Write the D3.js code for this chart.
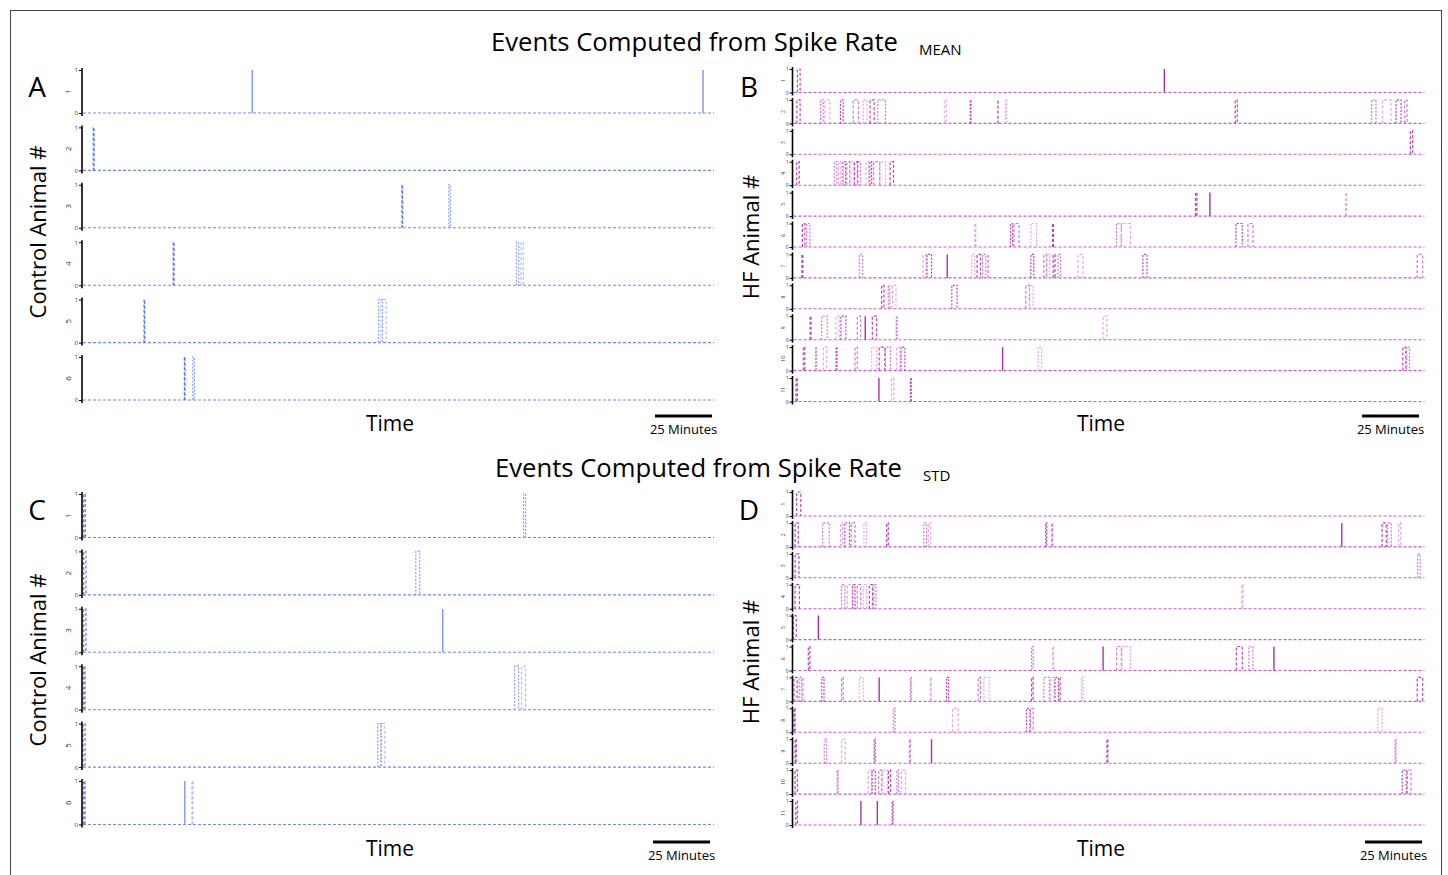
<!DOCTYPE html>
<html><head><meta charset="utf-8">
<script src="https://cdn.jsdelivr.net/npm/d3@7"></script>
<style>body{margin:0;background:#fff}text{font-family:"Open Sans",sans-serif}</style>
</head><body><svg id="c" width="1448" height="875"></svg>
<script>
// ---------- DATA (time in minutes, events as [start, end]) ----------
const timeDomain = [0, 277];
const scaleBarMinutes = 25;
const controlAnimals = ["1","2","3","4","5","6"];
const hfAnimals = ["1","2","3","4","5","6","7","8","9","10","11"];
const titles = ["Events Computed from Spike Rate", "Events Computed from Spike Rate"];
const subscripts = ["MEAN", "STD"];
const panelLetters = ["A","B","C","D"];

const eventsA = [
  [[74.3,74.3],[272.2,272.2]],
  [[4.5,4.9]],
  [[140.0,140.3],[160.6,161.3]],
  [[39.6,40.0],[190.3,191.3],[192.3,193.3]],
  [[26.8,27.1],[129.8,131.5],[130.8,133.1]],
  [[44.5,44.8],[48.2,48.9]]
];
const eventsC = [
  [[0.3,1.0],[193.4,194.3]],
  [[0.3,1.3],[146.1,147.8]],
  [[0.3,1.3],[157.9,157.9]],
  [[0.3,0.9],[189.5,191.2],[192.5,194.3]],
  [[0.0,0.9],[129.4,131.0],[130.6,132.5]],
  [[0.3,0.9],[44.7,44.7],[47.8,48.3]]
];
const eventsB = [
  [[1.7,2.9],[162.8,162.8]],
  [[1.5,2.9],[11.9,13.0],[13.8,16.0],[20.6,21.8],[26.2,28.5],[30.6,32.3],[33.6,35.4],[37.0,40.4],[66.2,67.1],[77.6,77.9],[89.6,89.9],[93.0,93.6],[193.9,194.8],[253.8,255.7],[258.6,262.3],[264.5,266.7],[268.3,269.3]],
  [[270.8,271.8]],
  [[1.4,2.5],[17.9,19.0],[19.8,20.8],[21.7,22.8],[23.4,24.7],[24.8,26.2],[26.8,28.2],[28.0,29.4],[31.8,33.0],[33.5,34.3],[35.2,37.8],[38.0,40.4],[42.4,43.9]],
  [[176.5,177.1],[182.8,182.8],[242.4,242.8]],
  [[3.9,5.0],[5.8,7.2],[79.6,80.0],[95.3,96.2],[96.8,99.0],[104.2,106.7],[113.7,114.1],[141.8,143.9],[143.9,147.9],[194.2,197.0],[199.5,201.7]],
  [[3.7,4.1],[28.9,30.4],[56.9,58.2],[58.6,60.6],[67.5,67.5],[78.2,79.6],[80.6,82.1],[83.0,84.4],[85.2,85.6],[104.2,105.5],[109.9,111.0],[111.3,112.5],[114.0,114.8],[116.1,117.2],[124.9,127.1],[153.4,155.2],[273.8,276.2]],
  [[38.7,39.7],[41.6,42.3],[43.5,45.0],[69.5,71.8],[102.0,103.6],[103.6,105.2]],
  [[7.3,7.7],[12.4,14.8],[18.6,20.0],[20.8,23.0],[28.0,29.5],[31.5,31.5],[34.6,36.5],[45.1,45.5],[135.9,137.6]],
  [[4.3,5.0],[9.7,10.1],[13.1,14.6],[18.7,19.1],[27.0,28.0],[34.3,36.5],[37.6,40.1],[40.4,42.6],[45.3,46.8],[47.2,48.9],[91.8,91.8],[107.4,108.9],[267.5,268.8],[269.2,270.4]],
  [[1.1,1.7],[37.5,37.5],[43.1,44.1],[51.3,51.7]]
];
const eventsD = [
  [[1.4,3.2]],
  [[0.7,2.1],[12.8,15.7],[20.7,21.5],[22.5,24.6],[25.3,27.0],[30.9,32.1],[40.9,41.6],[57.2,58.4],[59.2,60.2],[110.7,111.2],[113.4,113.7],[240.7,240.7],[258.4,260.2],[260.8,262.4],[265.7,266.6]],
  [[0.7,2.4],[274.0,275.1]],
  [[0.7,2.6],[21.1,22.6],[23.6,25.8],[26.0,27.0],[28.0,29.5],[30.6,32.1],[33.3,34.7],[35.2,36.2],[196.8,197.3]],
  [[0.0,1.2],[10.9,10.9]],
  [[6.5,7.2],[104.5,105.2],[113.8,114.2],[135.9,135.9],[141.8,143.9],[144.2,147.9],[194.4,197.0],[199.9,201.7],[210.9,210.9]],
  [[0.2,1.6],[2.5,3.5],[4.0,4.3],[12.4,13.4],[21.1,21.8],[28.9,30.6],[37.6,37.6],[51.3,51.7],[60.1,60.5],[67.2,68.1],[81.1,82.1],[83.6,85.9],[104.5,105.2],[109.9,112.3],[112.9,114.4],[114.8,116.3],[116.6,117.2],[126.4,127.1],[273.8,276.2]],
  [[0.2,0.7],[43.8,44.6],[69.8,72.3],[102.3,103.8],[104.0,105.2],[256.5,258.4]],
  [[0.7,1.2],[13.5,14.6],[21.1,22.7],[35.4,35.9],[50.9,51.3],[60.6,60.6],[137.6,138.0],[264.1,264.5]],
  [[0.7,1.7],[19.2,19.6],[32.8,34.3],[34.5,35.9],[37.4,38.7],[39.3,41.2],[41.7,42.6],[45.4,46.1],[47.3,49.2],[267.2,269.0],[269.5,271.1]],
  [[1.0,1.7],[29.6,29.6],[36.8,36.8],[43.3,43.7]]
];

// ---------- DRAWING ----------
const svg = d3.select("#c");
svg.append("rect").attr("x",10.5).attr("y",10.5).attr("width",1431).attr("height",880)
  .attr("fill","none").attr("stroke","#444").attr("stroke-width",1);

const blue = {base:"#6f89ef", shades:["#5b77ec","#8aa0f2","#b3c1f6"], solid:"#7d95f0"};
const mag  = {base:"#c858c8", shades:["#bb44bb","#d07ad0","#e3a8e3"], solid:"#a832a8"};

const panels = [
  {letter:"A", lx:37, ly:87, x0:83, x1:714, top:70, step:57.4, h:43, labels:controlAnimals, events:eventsA, col:blue,
   ytitle:"Control Animal #", ytx:37, yty:232, timeX:390, timeY:431, bar:[655,712,416], rowFs:8, tickFs:6},
  {letter:"B", lx:749, ly:87, x0:793.5, x1:1424.5, top:69, step:30.9, h:23.5, labels:hfAnimals, events:eventsB, col:mag,
   ytitle:"HF Animal #", ytx:750, yty:237, timeX:1101, timeY:431, bar:[1363,1419,416], rowFs:5, tickFs:5},
  {letter:"C", lx:37, ly:510, x0:83, x1:714, top:494, step:57.4, h:43.5, labels:controlAnimals, events:eventsC, col:blue,
   ytitle:"Control Animal #", ytx:37, yty:660, timeX:390, timeY:856, bar:[652,710,842], rowFs:8, tickFs:6},
  {letter:"D", lx:749, ly:510, x0:793.5, x1:1424.5, top:492, step:30.9, h:24, labels:hfAnimals, events:eventsD, col:mag,
   ytitle:"HF Animal #", ytx:750, yty:662, timeX:1101, timeY:856, bar:[1365,1422,842], rowFs:5, tickFs:5}
];

panels.forEach(p => {
  const x = d3.scaleLinear().domain(timeDomain).range([p.x0, p.x1]);
  const pg = svg.append("g");
  p.labels.forEach((lab, i) => {
    const top = p.top + i * p.step;
    const y = d3.scaleLinear().domain([0,1]).range([top + p.h, top]);
    const g = pg.append("g");
    // baseline
    g.append("line").attr("x1", x(timeDomain[0])).attr("x2", x(timeDomain[1]))
      .attr("y1", y(0)).attr("y2", y(0))
      .attr("stroke", p.col.base).attr("stroke-width", 1.1).attr("stroke-dasharray", "3,2");
    // events
    p.events[i].forEach((e, j) => {
      if (e[0] === e[1]) {
        g.append("line").attr("x1", x(e[0])).attr("x2", x(e[0])).attr("y1", y(0)).attr("y2", y(1))
          .attr("stroke", p.col.solid).attr("stroke-width", 1.4);
      } else {
        const path = d3.path();
        path.moveTo(x(e[0]), y(0)); path.lineTo(x(e[0]), y(1));
        path.lineTo(x(e[1]), y(1)); path.lineTo(x(e[1]), y(0));
        g.append("path").attr("d", path.toString()).attr("fill", "none")
          .attr("stroke", p.col.shades[j % 3]).attr("stroke-width", 1.2)
          .attr("stroke-dasharray", j % 2 ? "2,1.5" : "3,2");
      }
    });
    // axis
    const ax = g.append("g").attr("transform", `translate(${p.x0 - 1},0)`)
      .call(d3.axisLeft(y).tickValues([0,1]).tickSize(3).tickSizeOuter(0).tickFormat(d3.format("d")));
    ax.select(".domain").remove();
    ax.append("line").attr("x1",0).attr("x2",0).attr("y1",y(1)-2).attr("y2",y(0)+3)
      .attr("stroke","#000").attr("stroke-width",1.6);
    ax.selectAll(".tick line").attr("stroke","#000").attr("stroke-width",1);
    ax.selectAll(".tick text").attr("font-size", p.tickFs).attr("fill","#333").attr("x",-4);
    // row label
    g.append("text").attr("transform", `translate(${p.x0 - (p.rowFs > 6 ? 12 : 9)},${(y(0)+y(1))/2}) rotate(-90)`)
      .attr("text-anchor","middle").attr("font-size", p.rowFs).attr("fill","#333").text(lab);
  });
  // panel letter
  svg.append("text").attr("x", p.lx).attr("y", p.ly + 10).attr("text-anchor","middle")
    .attr("font-size", 28).attr("fill","#000").text(p.letter);
  // y title
  svg.append("text").attr("transform", `translate(${p.ytx + 9},${p.yty}) rotate(-90)`)
    .attr("text-anchor","middle").attr("font-size", 22).attr("fill","#000").text(p.ytitle);
  // Time label
  svg.append("text").attr("x", p.timeX).attr("y", p.timeY).attr("text-anchor","middle")
    .attr("font-size", 21).attr("fill","#000").text("Time");
  // scale bar from scale
  const bx1 = p.bar[1], bx0 = bx1 - (x(scaleBarMinutes) - x(0));
  svg.append("line").attr("x1", bx0).attr("x2", bx1).attr("y1", p.bar[2]).attr("y2", p.bar[2])
    .attr("stroke","#000").attr("stroke-width",3);
  svg.append("text").attr("x", (bx0+bx1)/2).attr("y", p.bar[2] + 18).attr("text-anchor","middle")
    .attr("font-size", 13).attr("fill","#000").text(scaleBarMinutes + " Minutes");
});

// titles
[[491, 51, 919], [495, 477, 923]].forEach((pos, k) => {
  svg.append("text").attr("x", pos[0]).attr("y", pos[1]).attr("text-anchor","start")
    .attr("font-size", 25.5).attr("fill","#000").attr("textLength", 407).attr("lengthAdjust","spacingAndGlyphs")
    .text(titles[k]);
  svg.append("text").attr("x", pos[2]).attr("y", pos[1] + 4).attr("text-anchor","start")
    .attr("font-size", 15).attr("fill","#000").text(subscripts[k]);
});
</script></body></html>
